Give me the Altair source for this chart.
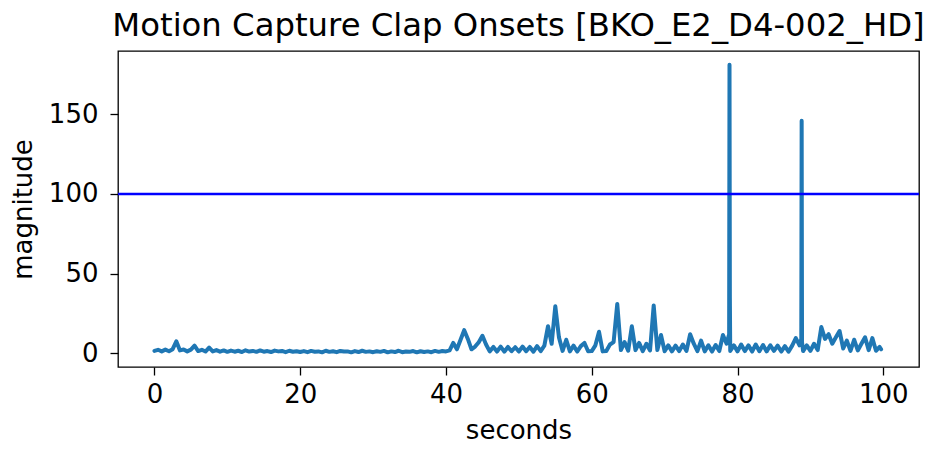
import altair as alt
import pandas as pd

seg0 = [1.5, 2.2, 1.2, 2.3, 1.3, 2.6, 7.5, 1.8, 2.4, 1.2, 2.3, 4.8, 1.4, 2.2, 1.1, 3.6, 1.2, 2.0, 1.0, 1.8]
seg1 = [0.9, 1.7, 1.0, 1.6, 0.8, 1.9, 1.1, 1.5, 0.9, 1.8, 1.0, 1.4, 0.8, 1.7, 1.2, 1.5, 0.7, 1.6, 1.0, 1.3]
seg2 = [0.8, 1.4, 0.7, 1.5, 1.0, 1.2, 0.6, 1.6, 0.9, 1.3, 0.7, 1.5, 1.1, 1.2, 0.6, 1.4, 0.8, 1.6, 0.9, 1.2]
seg3 = [0.7, 1.3, 0.9, 1.5, 0.6, 1.2, 0.8, 1.6, 0.7, 1.1, 0.9, 1.4, 0.6, 1.3, 0.8, 1.2, 0.7, 1.5, 0.9, 1.4]
seg4 = [1.2, 1.8, 6.5, 2.5, 8.5, 14.5, 9.0, 2.5, 4.2, 7.0, 11.0, 5.5, 1.2, 4.0, 1.1, 4.2, 1.0, 4.0, 1.3, 3.8]
seg5 = [1.1, 4.2, 1.3, 4.0, 1.0, 4.5, 1.4, 4.8, 17.0, 6.0, 29.5, 10.0, 1.5, 8.5, 1.2, 4.8, 1.1, 4.5, 6.5, 1.3]
seg6 = [1.4, 5.0, 13.5, 1.2, 1.5, 5.5, 7.0, 31.0, 2.0, 7.0, 1.6, 17.0, 2.0, 6.5, 1.4, 6.0, 1.8, 30.0, 2.0, 11.5]
seg7 = [1.3, 5.0, 1.2, 4.8, 1.4, 5.5, 1.5, 12.0, 6.0, 1.3, 8.0, 1.2, 5.0, 1.1, 5.2, 1.4, 11.5, 6.0, 1.5, 5.0]
seg8 = [1.2, 5.5, 1.4, 5.0, 1.1, 5.5, 1.3, 5.2, 1.2, 5.0, 1.5, 4.8, 1.1, 4.5, 1.0, 4.8, 9.5, 5.0, 1.4, 5.0]
seg9 = [1.5, 6.0, 2.0, 16.5, 9.0, 12.0, 6.0, 10.0, 14.0, 3.0, 8.0, 1.5, 8.5, 1.8, 6.0, 10.0, 2.0, 9.5, 1.6, 4.0]

magnitude = seg0 + seg1 + seg2 + seg3 + seg4 + seg5 + seg6 + seg7 + seg8 + seg9
seconds = [i * 0.5 for i in range(len(magnitude))]

# the two clap spikes, sampled more finely
spike_seconds = [78.85, 78.9, 78.95, 88.75, 88.8, 88.85, 99.7]
spike_magnitude = [12.0, 181.0, 35.0, 9.0, 146.0, 7.0, 2.5]

threshold = [100]

x_ticks = [0, 20, 40, 60, 80, 100]
y_ticks = [0, 50, 100, 150]

df = pd.concat([
    pd.DataFrame({"seconds": seconds, "magnitude": magnitude}),
    pd.DataFrame({"seconds": spike_seconds, "magnitude": spike_magnitude}),
]).sort_values("seconds")
thr = pd.DataFrame({"threshold": threshold})

FONT = "DejaVu Sans"

x_scale = alt.Scale(domain=[-5, 104.9], nice=False, zero=False)
y_scale = alt.Scale(domain=[-8.6, 189.7], nice=False, zero=False)

line = alt.Chart(df).mark_line(color="#1f77b4", strokeWidth=4, strokeJoin="round", strokeCap="round").encode(
    x=alt.X("seconds:Q", scale=x_scale,
            axis=alt.Axis(title="seconds", values=x_ticks, format="d", grid=False,
                          tickSize=8, tickColor="black", tickWidth=1.3, domain=False,
                          labelFont=FONT, labelFontSize=26, labelColor="black", labelPadding=6,
                          titleFont=FONT, titleFontSize=26, titleFontWeight="normal",
                          titleColor="black", titlePadding=10)),
    y=alt.Y("magnitude:Q", scale=y_scale,
            axis=alt.Axis(title="magnitude", values=y_ticks, format="d", grid=False,
                          tickSize=8, tickColor="black", tickWidth=1.3, domain=False,
                          labelFont=FONT, labelFontSize=26, labelColor="black", labelPadding=12,
                          titleFont=FONT, titleFontSize=26, titleFontWeight="normal",
                          titleColor="black", titlePadding=12)),
    order="seconds:Q",
)

rule = alt.Chart(thr).mark_rule(color="#0000ff", strokeWidth=2.5).encode(
    y=alt.Y("threshold:Q", scale=y_scale)
)

chart = (line + rule).properties(
    width=801,
    height=316,
    autosize=alt.AutoSizeParams(type="none"),
    padding={"left": 118, "top": 51, "right": 8, "bottom": 82},
    title=alt.TitleParams(
        "Motion Capture Clap Onsets [BKO_E2_D4-002_HD]",
        font=FONT, fontSize=32.3, fontWeight="normal", color="black",
        anchor="middle", baseline="bottom", offset=12, dy=36,
    ),
).configure_view(stroke="black", strokeWidth=1.3)

chart.save("out.html", embed_options={"renderer": "svg", "actions": False})
